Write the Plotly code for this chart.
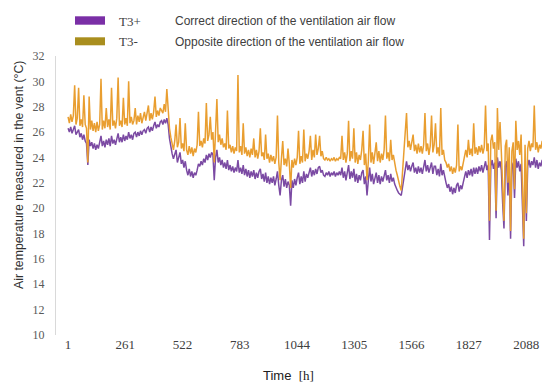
import plotly.graph_objects as go

# time step between readings (hours) and hour of first reading
STEP_H = 6
FIRST_H = 1

# T3- : opposite direction of ventilation air flow (°C)
# (None = gap in the record, drawn as a straight connecting line like the original)
t3_minus = [
    27.2, 26.7, 27.4, 26.8, 27.3, 29.7, 26.6, 27.1, 29.5, 26.5,
    27.0, 26.4, 28.9, 26.6, 26.3, 23.6, 28.8, 26.2, 26.9, 26.1,
    26.7, 26.0, 26.8, 26.1, 26.6, 30.2, 26.2, 26.9, 26.3, 27.9,
    26.4, 27.0, 26.2, 29.5, 26.5, 26.9, 26.3, 27.1, 30.3, 26.5,
    26.9, 26.4, 28.7, 26.6, 27.1, 26.5, 30.0, 26.7, 27.2, 26.6,
    26.9, 27.9, 26.6, 27.3, 26.8, 27.5, 26.7, 27.2, 27.6, 26.9,
    27.4, 28.1, 26.9, 27.5, 27.0, 27.6, 28.8, 27.2, 27.7, 27.3,
    27.9, 27.7, 27.5, 28.2, 27.6, 29.4, 27.4, 26.3, 25.6, 25.1,
    24.6, 25.3, 26.6, 24.8, 25.2, 27.1, 24.7, 25.1, 24.5, 26.7,
    24.6, 24.2, 24.9, 24.3, 24.8, 24.1, 24.7, 24.4, 25.0, 27.6,
    24.9, 25.3, 24.8, 25.5, 25.1, 28.3, 25.3, 25.8, 27.2, 25.4,
    26.0, 23.6, 25.6, 28.6, 25.2, 25.8, 25.0, 25.5, 24.8, 25.1,
    24.6, 27.7, 24.7, 25.0, 24.4, 24.9, 24.3, 24.8, 24.5, 30.5,
    24.4, 24.9, 24.2, 26.7, 24.3, 24.8, 24.1, 24.6, 24.0, 24.7,
    24.2, 25.5, 24.0, 24.6, 23.9, 24.5, 26.3, 24.1, 24.4, 23.8,
    25.8, 23.9, 24.3, 23.6, 24.2, 23.7, 24.1, 23.5, 24.0, 27.3,
    23.6, 22.2, 23.9, 25.3, 23.4, 23.9, 23.3, 24.7, 23.5, 21.6,
    23.8, 23.2, 23.9, 23.4, 24.0, 26.1, 23.5, 24.1, 23.6, 26.2,
    23.7, 24.3, 23.9, 24.5, 25.7, 23.8, 24.6, 24.0, 25.8, 24.2,
    24.7, 25.7, 24.1, 24.5, 23.9, 23.8, 24.0, 23.8, 23.9, 23.7,
    23.9, 23.8, 24.0, 23.7, 23.9, 23.8, 24.0, 23.9, 25.7, 23.8,
    24.4, 23.6, 24.3, 26.9, 23.7, 24.5, 23.9, 26.3, 23.6, 24.4,
    23.5, 24.2, 23.8, 24.6, 26.1, 23.4, 24.3, 22.2, 23.7, 26.6,
    23.6, 24.4, 23.5, 24.2, 25.2, 23.7, 24.5, 23.6, 24.3, 23.8,
    24.6, 27.3, 23.9, 24.4, 23.7, 25.4, 23.8, 24.2, 23.4, 23.0,
    22.6, 22.0, 21.7, 21.4, None, None, None, 27.5, 24.8, 25.3,
    24.6, 25.2, 25.8, 24.5, 25.0, 24.3, 25.1, 24.4, 24.9, 24.3,
    25.0, 27.5, 24.5, 25.1, 24.2, 24.9, 27.3, 24.4, 25.0, 26.7,
    24.3, 24.8, 24.1, 27.9, 24.2, 24.6, 23.8, 23.6, 23.2, 23.5,
    22.9, 23.3, 22.7, 23.2, 22.8, 23.4, 26.6, 22.9, 23.3, 23.0,
    23.6, 24.1, 24.6, 24.0, 25.4, 24.2, 24.7, 24.1, 26.7, 24.3,
    24.8, 24.2, 24.9, 24.4, 25.0, 24.3, 24.8, 28.1, 24.5, 25.1,
    19.0, 25.3, 25.8, 24.7, 25.2, 19.8, 27.9, 24.6, 26.8, 24.4,
    21.0, 19.0, 24.9, 25.4, 22.0, 24.8, 18.2, 24.5, 25.2, 21.5,
    26.9, 24.6, 25.3, 24.2, 25.8, 21.0, 17.6, 25.0, 19.6, 24.7,
    25.3, 24.5, 25.1, 24.8, 28.1, 24.6, 25.2, 24.4, 25.0, 24.7,
    25.3, 24.6, 19.0, 25.1, 27.5, 24.8, 20.0,
]

# T3+ : correct direction of ventilation air flow (°C)
t3_plus = [
    26.3, 26.0, 26.4, 25.9, 26.2, 26.5, 25.8, 26.0, 26.2, 25.6,
    25.9, 25.4, 25.8, 25.3, 25.1, 23.4, 25.4, 24.9, 25.2, 24.7,
    25.1, 24.6, 25.0, 24.7, 25.2, 25.7, 24.9, 25.3, 24.8, 25.4,
    25.0, 25.5, 24.9, 25.7, 25.1, 25.4, 25.0, 25.6, 25.9, 25.2,
    25.6, 25.2, 25.8, 25.3, 25.7, 25.4, 26.0, 25.5, 25.8, 25.4,
    25.9, 26.0, 25.6, 26.0, 25.7, 26.1, 25.8, 26.1, 26.2, 25.9,
    26.3, 26.4, 26.0, 26.4, 26.1, 26.5, 26.8, 26.3, 26.6, 26.4,
    26.8, 26.9, 26.6, 27.0, 26.7, 27.1, 26.6, 25.5, 24.8, 24.3,
    23.9, 24.3, 24.6, 23.6, 24.0, 24.4, 23.5, 23.8, 23.2, 23.7,
    23.0, 22.6, 23.1, 22.5, 22.9, 22.4, 22.8, 22.6, 23.0, 23.5,
    23.3, 23.7, 23.4, 23.9, 23.6, 24.2, 23.8, 24.3, 24.0, 24.4,
    24.2, 22.2, 24.0, 24.6, 23.6, 24.0, 23.4, 23.8, 23.2, 23.6,
    23.1, 23.8, 23.0, 23.4, 22.9, 23.3, 22.8, 23.2, 22.9, 23.8,
    22.8, 23.2, 22.7, 23.4, 22.6, 23.1, 22.5, 23.0, 22.4, 22.9,
    22.5, 23.0, 22.3, 22.8, 22.4, 22.9, 23.1, 22.3, 22.7, 22.1,
    22.8, 22.0, 22.5, 21.9, 22.4, 22.0, 22.5, 21.8, 22.3, 22.9,
    21.8, 21.0, 22.2, 22.6, 21.7, 22.3, 21.6, 22.1, 21.8, 20.2,
    22.2, 21.6, 22.3, 21.8, 22.4, 22.8, 21.9, 22.5, 22.0, 22.9,
    22.1, 22.7, 22.4, 22.9, 23.2, 22.5, 23.0, 22.6, 23.1, 22.7,
    23.2, 23.3, 22.8, 23.0, 22.6, 22.5, 22.8, 22.6, 22.9, 22.5,
    22.8, 22.6, 22.9, 22.5, 22.8, 22.6, 22.9, 22.6, 23.2, 22.4,
    22.9, 22.2, 22.8, 23.4, 22.3, 22.9, 22.4, 23.1, 22.1, 22.7,
    22.0, 22.6, 22.2, 22.8, 23.0, 21.9, 22.5, 21.0, 22.2, 23.2,
    22.1, 22.7, 21.9, 22.5, 22.8, 22.0, 22.6, 21.9, 22.5, 22.1,
    22.7, 23.0, 22.2, 22.6, 22.0, 22.7, 22.1, 22.4, 21.9, 21.6,
    21.4, 21.2, 21.1, 21.0, None, None, None, 23.7, 23.0, 23.4,
    22.9, 23.3, 23.6, 22.8, 23.2, 22.7, 23.3, 22.8, 23.2, 22.7,
    23.3, 23.8, 22.9, 23.4, 22.8, 23.2, 23.6, 22.7, 23.3, 23.3,
    22.6, 23.1, 22.5, 23.5, 22.6, 23.0, 22.4, 22.0, 21.6, 21.9,
    21.3, 21.7, 21.1, 21.6, 21.2, 21.8, 22.0, 21.3, 21.8, 21.5,
    22.0, 22.5, 22.9, 22.4, 23.0, 22.6, 23.1, 22.5, 23.2, 22.7,
    23.2, 22.7, 23.3, 22.9, 23.4, 22.8, 23.3, 23.7, 23.0, 23.4,
    17.5, 23.3, 23.8, 23.1, 23.6, 19.2, 24.0, 23.2, 23.7, 23.0,
    20.4, 18.4, 23.3, 23.7, 21.0, 23.4, 17.6, 23.1, 23.6, 20.8,
    23.9, 23.2, 23.7, 22.9, 23.5, 20.2, 17.0, 23.4, 19.0, 23.3,
    23.8, 23.2, 23.7, 23.4, 24.0, 23.2, 23.8, 23.1, 23.6, 23.3,
    23.8, 23.2, 18.4, 23.5, 23.9, 23.3, 19.5,
]

hours = [FIRST_H + STEP_H * i for i in range(len(t3_plus))]

x_tick_vals = [1, 261, 522, 783, 1044, 1305, 1566, 1827, 2088]
y_tick_vals = list(range(10, 33, 2))

legend_codes = ["T3+", "T3-"]
legend_texts = ["Correct direction of the ventilation air flow",
                "Opposite direction of the ventilation air flow"]
legend_patch_colors = ["#7A2FA6", "#A98E1E"]

LINE_PLUS = "#7B4AA3"
LINE_MINUS = "#E99E30"

fig = go.Figure()
fig.add_trace(go.Scatter(x=hours, y=t3_plus, mode="lines", name="T3+",
                         connectgaps=True,
                         line=dict(color=LINE_PLUS, width=1.5)))
fig.add_trace(go.Scatter(x=hours, y=t3_minus, mode="lines", name="T3-",
                         connectgaps=True,
                         line=dict(color=LINE_MINUS, width=1.5)))

SERIF = "Liberation Serif"
SANS = "Liberation Sans"

# plot area: left 48, right 548, top 48, bottom 327 (pixels)
L, R, T, B = 48, 548, 48, 327
W, H = R - L, B - T


def px(x):
    return (x - L) / W


def py(y):
    return (B - y) / H


fig.update_layout(
    width=550, height=389,
    margin=dict(l=L, r=550 - R, t=T, b=389 - B),
    paper_bgcolor="white", plot_bgcolor="white",
    showlegend=False,
    xaxis=dict(range=[-54, 2224], tickmode="array", tickvals=x_tick_vals,
               ticktext=[str(v) for v in x_tick_vals],
               showgrid=False, zeroline=False, showline=False, ticks="",
               tickfont=dict(family=SERIF, size=13, color="#404040")),
    yaxis=dict(range=[10, 32], tickmode="array", tickvals=y_tick_vals,
               showgrid=False, zeroline=False, showline=True,
               linecolor="#D9D9D9", linewidth=1, ticks="",
               ticklabelstandoff=8,
               tickfont=dict(family=SERIF, size=12, color="#595959")),
)

# legend (patches + text), placed above the plot area
patch_y = [(8.3, 16.7), (29.3, 37.3)]
text_y = [13, 34]
for k in range(2):
    y0, y1 = patch_y[k]
    fig.add_shape(type="rect", xref="paper", yref="paper",
                  x0=px(67), x1=px(97), y0=py(y1), y1=py(y0),
                  fillcolor=legend_patch_colors[k], line=dict(width=0))
    fig.add_annotation(xref="paper", yref="paper",
                       x=px(109), y=py(text_y[k]),
                       text=legend_codes[k], showarrow=False,
                       xanchor="left", yanchor="middle",
                       font=dict(family=SERIF, size=13, color="#404040"))
    fig.add_annotation(xref="paper", yref="paper",
                       x=px(165), y=py(text_y[k]),
                       text=legend_texts[k], showarrow=False,
                       xanchor="left", yanchor="middle",
                       font=dict(family=SANS, size=12, color="#404040"))

# axis titles
fig.add_annotation(xref="paper", yref="paper", x=px(11), y=py(167),
                   textangle=-90,
                   text="Air temperature measured in the vent (°C)",
                   showarrow=False, xanchor="center", yanchor="middle",
                   font=dict(family=SANS, size=12.3, color="#303030"))
fig.add_annotation(xref="paper", yref="paper", x=px(280), y=py(367),
                   text="Time  <span style=\"font-family:'Liberation Serif'\">[h]</span>",
                   showarrow=False, xanchor="center", yanchor="middle",
                   font=dict(family=SANS, size=13, color="#202020"))

fig.write_html("out.html")
